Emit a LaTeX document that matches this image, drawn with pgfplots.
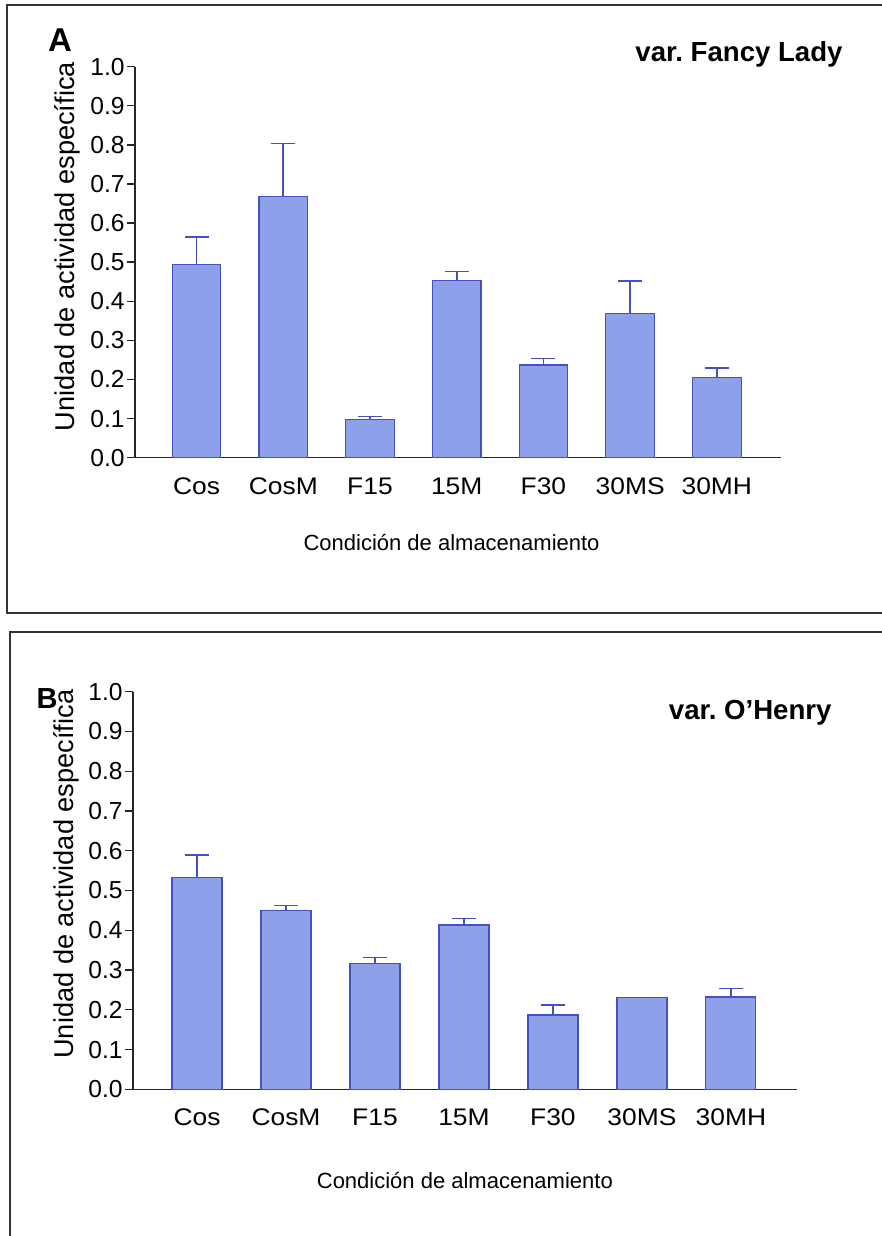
\documentclass[border=0pt]{standalone}
\usepackage{fontspec}
\setmainfont{Liberation Sans}
\usepackage{pgfplots}
\usepackage{pgfplotstable}
\pgfplotsset{compat=1.18}
\definecolor{barfill}{RGB}{142,160,234}
\definecolor{bardraw}{RGB}{66,82,196}

\pgfplotstableread{
x y e
0 0.495 0.069
1 0.669 0.135
2 0.098 0.007
3 0.453 0.023
4 0.237 0.017
5 0.369 0.083
6 0.206 0.024
}\dataA

\pgfplotstableread{
x y e
0 0.532 0.057
1 0.449 0.013
2 0.317 0.014
3 0.413 0.017
4 0.187 0.025
5 0.230 0.001
6 0.232 0.022
}\dataB

\pgfplotsset{
  mystyle/.style={
    scale only axis,
    axis lines=left,
    axis line style={-, line width=0.7pt, draw=black!85},
    ymin=0, ymax=1,
    ytick={0,0.1,0.2,0.3,0.4,0.5,0.6,0.7,0.8,0.9,1},
    /pgf/number format/fixed,
    /pgf/number format/fixed zerofill,
    /pgf/number format/precision=1,
    /pgf/number format/assume math mode=true,
    yticklabel style={font=\fontsize{12.3}{14}\selectfont, inner sep=1pt},
    xtick={0,1,2,3,4,5,6},
    xticklabels={Cos,CosM,F15,15M,F30,30MS,30MH},
    xticklabel style={font=\fontsize{12}{14}\selectfont, anchor=base, xscale=1.1, yshift=-14.6pt},
    x tick style={draw=none},
    y tick style={line width=0.7pt, draw=black!85},
    tick align=outside,
    major tick length=4pt,
    ybar,
    xlabel={Condición de almacenamiento},
    ylabel={Unidad de actividad específica},
    ylabel style={font=\fontsize{13.6}{15}\selectfont},
    xlabel style={font=\fontsize{11}{13}\selectfont, anchor=base},
    clip=false,
  },
  myplot/.style={
    fill=barfill, draw=bardraw, line width=0.6pt,
    error bars/.cd, y dir=plus, y explicit,
    error bar style={line width=0.8pt, draw=bardraw},
    error mark options={rotate=90, line width=0.8pt, mark size=6pt, draw=bardraw},
  }
}

\begin{document}
\begin{tikzpicture}
\useasboundingbox (0,0) rectangle (441pt,618pt);
\draw[line width=1pt, black!80] (450pt,615.5pt) -- (3.5pt,615.5pt) -- (3.5pt,311.5pt) -- (450pt,311.5pt);
\draw[line width=1pt, black!80] (450pt,302pt) -- (5pt,302pt) -- (5pt,-10pt);

\begin{axis}[mystyle,
  at={(67.5pt,389.15pt)}, anchor=south west,
  width=323pt, height=195.5pt,
  xmin=-0.71, xmax=6.74, bar width=24.3pt,
  xlabel style={at={(axis description cs:0.49,0)}, yshift=-46.5pt},
  ylabel style={at={(axis description cs:-0.105,0.54)}, anchor=center},
]
\addplot[myplot] table[x=x,y=y,y error=e]{\dataA};
\node[font=\bfseries\fontsize{13.8}{16}\selectfont] at (axis description cs:0.935,1.0325) {var.\ Fancy Lady};
\node[font=\bfseries\fontsize{16.5}{18}\selectfont] at (axis description cs:-0.116,1.068) {A};
\end{axis}

\begin{axis}[mystyle,
  at={(66.5pt,73.35pt)}, anchor=south west,
  width=331.85pt, height=198.8pt,
  xmin=-0.72, xmax=6.74, bar width=25pt,
  xticklabel style={yshift=0.6pt},
  xlabel style={at={(axis description cs:0.5,0)}, yshift=-49.7pt},
  ylabel style={at={(axis description cs:-0.0999,0.541)}, anchor=center},
]
\addplot[myplot] table[x=x,y=y,y error=e]{\dataB};
\node[font=\bfseries\fontsize{13.8}{16}\selectfont] at (axis description cs:0.93,0.946) {var.\ O'Henry};
\node[font=\bfseries\fontsize{14.5}{16}\selectfont] at (axis description cs:-0.1296,0.984) {B};
\end{axis}
\end{tikzpicture}
\end{document}
